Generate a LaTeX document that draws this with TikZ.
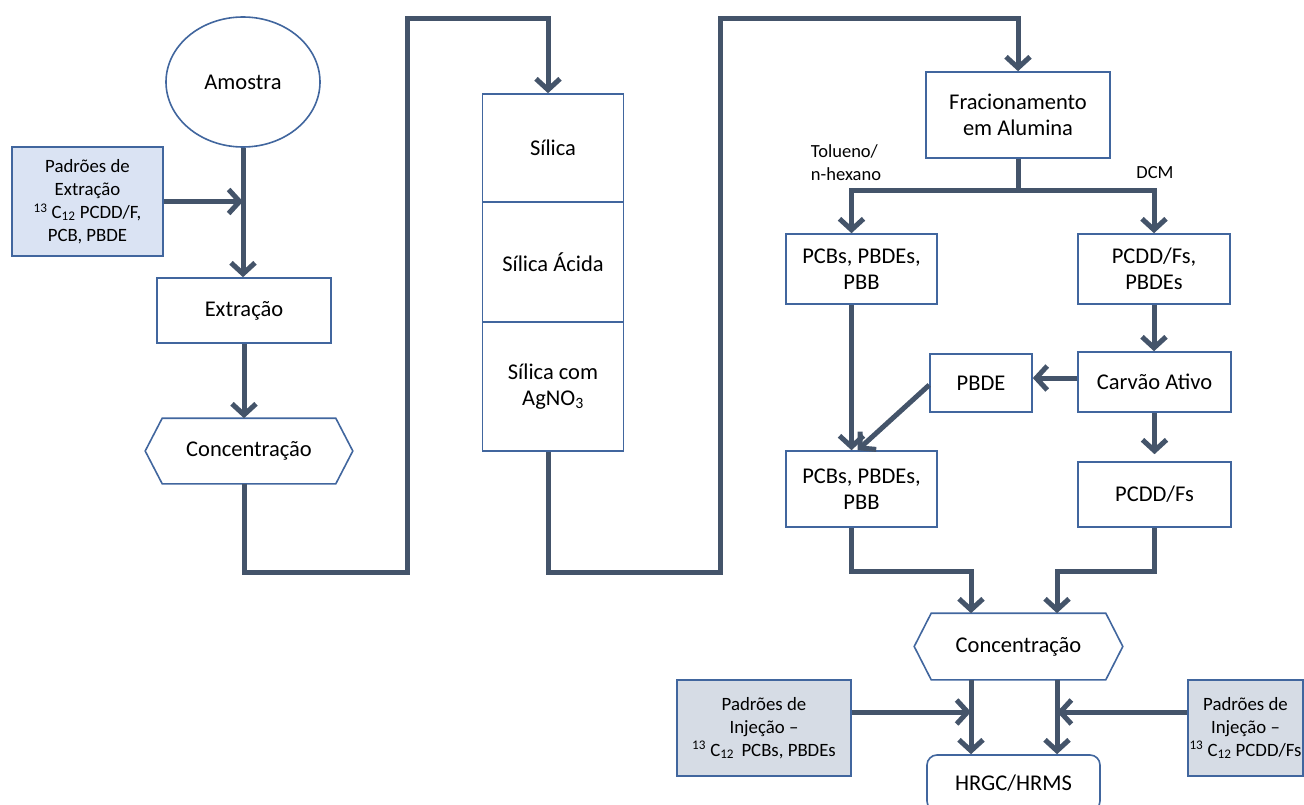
\documentclass[tikz,border=0pt]{standalone}
\usepackage{fontspec}
\setmainfont{Carlito}
\usetikzlibrary{arrows.meta,shapes.geometric}
\definecolor{boxline}{HTML}{41669E}
\definecolor{flowline}{HTML}{44546A}
\definecolor{padblue}{HTML}{DAE3F3}
\definecolor{padgray}{HTML}{D6DCE5}

\begin{document}
\begin{tikzpicture} [x=1pt,y=-1pt,
  box/.style={draw=boxline, line width=1.6pt, fill=white, align=center, inner sep=0pt,
    font=\fontsize{22.5}{26}\selectfont},
  pad/.style={box, font=\fontsize{18.8}{23}\selectfont},
  hexa/.style={box, draw=none, fill=none},
  flow/.style={draw=flowline, line width=5pt, -{Straight Barb[length=11pt,width=24pt]}},
  line/.style={draw=flowline, line width=5pt},
  lbl/.style={align=left, inner sep=0pt, font=\fontsize{18.5}{23}\selectfont}]

\useasboundingbox (0,0) rectangle (1304,805);
\clip (0,0) rectangle (1304,805);

%\draw [step=100, dotted] (0,0) grid (1304,805);

\node [box, ellipse, minimum width=154, minimum height=130] (amostra) at (243,82) {Amostra};
\node [pad, fill=padblue, minimum width=151, minimum height=109] (padext) at (87.5,201.5)
  {Padrões de\\Extração\\\textsuperscript{13} C\textsubscript{12} PCDD/F,\\PCB, PBDE};
\node [box, minimum width=174, minimum height=65] (extracao) at (244,310.5) {Extração};
\node [hexa, minimum width=206, minimum height=64] (conc1) at (249,451) {Concentração};
\draw [draw=boxline, line width=1.6pt] (conc1.west) -- ([xshift=17]conc1.north west)
  -- ([xshift=-17]conc1.north east) -- (conc1.east) -- ([xshift=-17]conc1.south east)
  -- ([xshift=17]conc1.south west) -- cycle;

\node [box, minimum width=141, minimum height=108] (sil1) at (553,148) {Sílica};
\node [box, minimum width=141, minimum height=120] (sil2) at (553,262) {Sílica Ácida};
\node [box, minimum width=141, minimum height=129] (sil3) at (553,386.5) {Sílica com\\AgNO\textsubscript{3}};

\node [box, minimum width=184, minimum height=86] (frac) at (1018,115) {Fracionamento\\em Alumina};
\node [box, minimum width=151, minimum height=70] (pcb1) at (861.5,269) {PCBs, PBDEs,\\PBB};
\node [box, minimum width=152, minimum height=70] (pcdd1) at (1154,269) {PCDD/Fs,\\PBDEs};
\node [box, minimum width=153, minimum height=60] (carvao) at (1154.5,382) {Carvão Ativo};
\node [box, minimum width=102, minimum height=58] (pbde) at (981,383) {PBDE};
\node [box, minimum width=151, minimum height=76] (pcb2) at (861.5,489) {PCBs, PBDEs,\\PBB};
\node [box, minimum width=153, minimum height=65] (pcdd2) at (1154.5,494.5) {PCDD/Fs};
\node [lbl] (tolueno) at (846,163) {Tolueno/\\n-hexano};
\node [lbl] (dcm) at (1155,173) {DCM};

\node [hexa, minimum width=207, minimum height=65] (conc2) at (1018.5,646.5) {Concentração};
\draw [draw=boxline, line width=1.6pt] (conc2.west) -- ([xshift=17]conc2.north west)
  -- ([xshift=-17]conc2.north east) -- (conc2.east) -- ([xshift=-17]conc2.south east)
  -- ([xshift=17]conc2.south west) -- cycle;
\node [box, rounded corners=10pt, minimum width=173, minimum height=56] (hrgc) at (1013.5,783) {HRGC/HRMS};
\node [pad, fill=padgray, minimum width=174, minimum height=96] (injl) at (764,728)
  {Padrões de\\Injeção --\\\textsuperscript{13} C\textsubscript{12}\, PCBs, PBDEs};
\node [pad, fill=padgray, minimum width=115, minimum height=96] (injr) at (1245.5,728)
  {Padrões de\\Injeção --\\\textsuperscript{13} C\textsubscript{12} PCDD/Fs};

\coordinate (bot1) at (407,572);
\coordinate (top1) at (407,19);
\coordinate (bot2) at (720,572);
\coordinate (top2) at (720,19);
\coordinate (split) at (1018,191);
\coordinate (mergel) at (971,571);
\coordinate (merger) at (1057,571);

\draw [flow] (amostra.south) -- (amostra.south |- extracao.north);
\draw [flow] (padext.east) -- (padext.east -| amostra.south);
\draw [flow] (extracao.south) -- (extracao.south |- conc1.north);
\draw [flow] (extracao.south |- conc1.south) |- (bot1) -- (top1) -| ([xshift=-5]sil1.north);
\draw [flow] ([xshift=-5]sil3.south) |- (bot2) -- (top2) -| (frac.north);

\draw [line] (frac.south) -- (split);
\draw [flow] (split) -| ([xshift=-10]pcb1.north);
\draw [flow] (split) -| (pcdd1.north);
\draw [flow] ([xshift=-10]pcb1.south) -- ([xshift=-10]pcb2.north);
\draw [flow] (pcdd1.south) -- (pcdd1.south |- carvao.north);
\draw [flow] ([yshift=4]carvao.west) -- ([yshift=4]carvao.west -| pbde.east);
\draw [flow] ([yshift=-2]pbde.west) -- ([xshift=-4]pcb2.north);
\draw [flow] (carvao.south) -- ([yshift=7]carvao.south |- pcdd2.north);

\draw [flow] ([xshift=-10]pcb2.south) |- (mergel) -- (mergel |- conc2.north);
\draw [flow] (pcdd2.south) |- (merger) -- (merger |- conc2.north);
\draw [flow] (mergel |- conc2.south) -- (mergel |- hrgc.north);
\draw [flow] (merger |- conc2.south) -- (merger |- hrgc.north);
\draw [flow] ([yshift=16]injl.east) -- ([yshift=16]injl.east -| mergel);
\draw [flow] ([yshift=16]injr.west) -- ([yshift=16]injr.west -| merger);

\end{tikzpicture}
\end{document}
